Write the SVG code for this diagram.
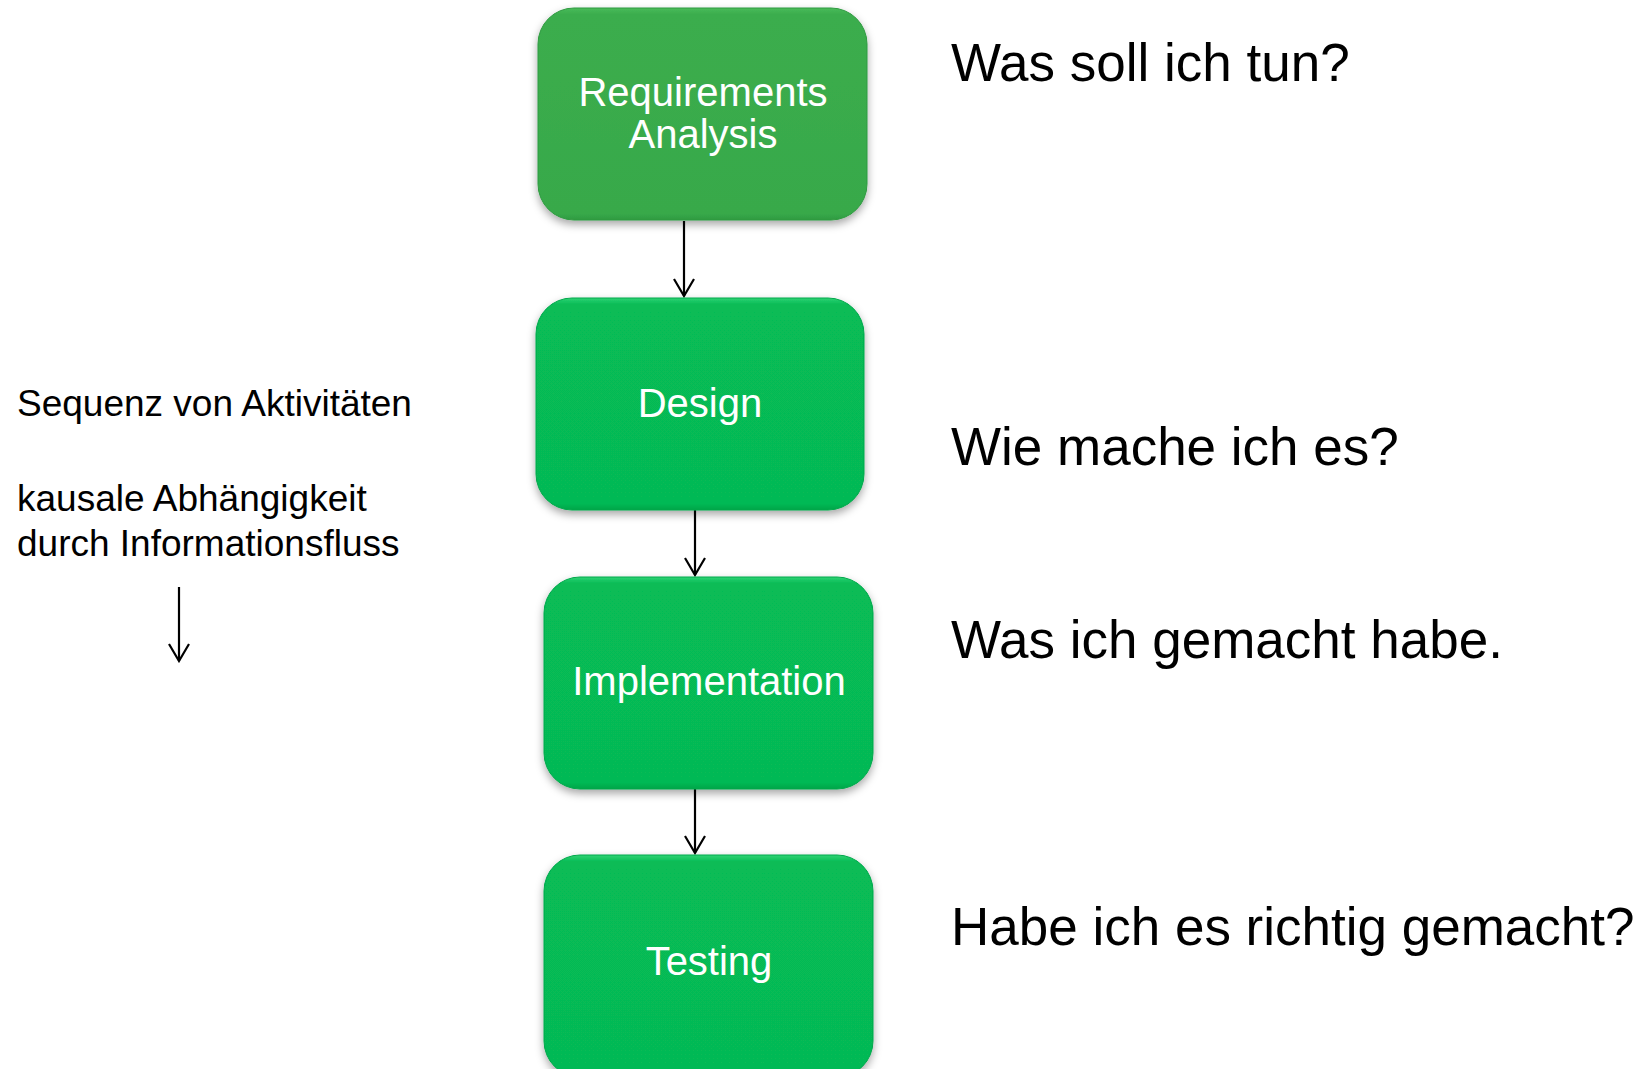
<svg xmlns="http://www.w3.org/2000/svg" width="1650" height="1069" viewBox="0 0 1650 1069">
<style>
.node-text{font-family:"Liberation Sans",Arial,sans-serif;font-size:40px;fill:#ffffff;text-anchor:middle}
.side{font-family:"Liberation Sans",Arial,sans-serif;font-size:37px;fill:#000000}
.q{font-family:"Liberation Sans",Arial,sans-serif;font-size:53px;fill:#000000}
.edge{stroke:#000000;stroke-width:2.2;fill:none}
.box2{fill:url(#g2);stroke:#04a84b;stroke-width:1}
.box1{fill:url(#g1);stroke:#2f9a40;stroke-width:1}
</style>
<defs>
<linearGradient id="g1" x1="0" y1="0" x2="0" y2="1">
<stop offset="0" stop-color="#49bb5a"/>
<stop offset="0.03" stop-color="#3bad4d"/>
<stop offset="0.97" stop-color="#38a94a"/>
<stop offset="1" stop-color="#2e9a40"/>
</linearGradient>
<linearGradient id="g2" x1="0" y1="0" x2="0" y2="1">
<stop offset="0" stop-color="#2fd374"/>
<stop offset="0.03" stop-color="#07bc56"/>
<stop offset="0.97" stop-color="#06b954"/>
<stop offset="1" stop-color="#04a549"/>
</linearGradient>
<filter id="sh" x="-10%" y="-10%" width="120%" height="125%">
<feDropShadow dx="0" dy="4" stdDeviation="4" flood-color="#000000" flood-opacity="0.35"/>
</filter>
<marker id="arr" viewBox="0 0 20 22" refX="18" refY="11" markerWidth="20" markerHeight="22" markerUnits="userSpaceOnUse" orient="auto">
<path d="M1,1 L18,11 L1,21" fill="none" stroke="#000000" stroke-width="2.2"/>
</marker>
</defs>
<rect width="1650" height="1069" fill="#ffffff"/>
<g id="connectors">
<line class="edge" x1="684" y1="221" x2="684" y2="296" marker-end="url(#arr)"/>
<line class="edge" x1="695" y1="510" x2="695" y2="575" marker-end="url(#arr)"/>
<line class="edge" x1="695" y1="789" x2="695" y2="853" marker-end="url(#arr)"/>
<line class="edge" x1="179" y1="587" x2="179" y2="661" marker-end="url(#arr)"/>
</g>
<g id="node-requirements">
<rect class="box1" x="538" y="8" width="329" height="212" rx="36" filter="url(#sh)"/>
<text class="node-text" x="703" y="106">Requirements</text>
<text class="node-text" x="703" y="148">Analysis</text>
</g>
<g id="node-design">
<rect class="box2" x="536" y="298" width="328" height="212" rx="36" filter="url(#sh)"/>
<text class="node-text" x="700" y="417">Design</text>
</g>
<g id="node-implementation">
<rect class="box2" x="544" y="577" width="329" height="212" rx="36" filter="url(#sh)"/>
<text class="node-text" x="709" y="695">Implementation</text>
</g>
<g id="node-testing">
<rect class="box2" x="544" y="855" width="329" height="222" rx="36" filter="url(#sh)"/>
<text class="node-text" x="709" y="975">Testing</text>
</g>
<g id="side-notes">
<text class="side" x="17" y="416">Sequenz von Aktivitäten</text>
<text class="side" x="17" y="511">kausale Abhängigkeit</text>
<text class="side" x="17" y="556">durch Informationsfluss</text>
</g>
<g id="questions">
<text class="q" x="951" y="81">Was soll ich tun?</text>
<text class="q" x="951" y="465">Wie mache ich es?</text>
<text class="q" x="951" y="658">Was ich gemacht habe.</text>
<text class="q" x="951" y="945">Habe ich es richtig gemacht?</text>
</g>
</svg>
